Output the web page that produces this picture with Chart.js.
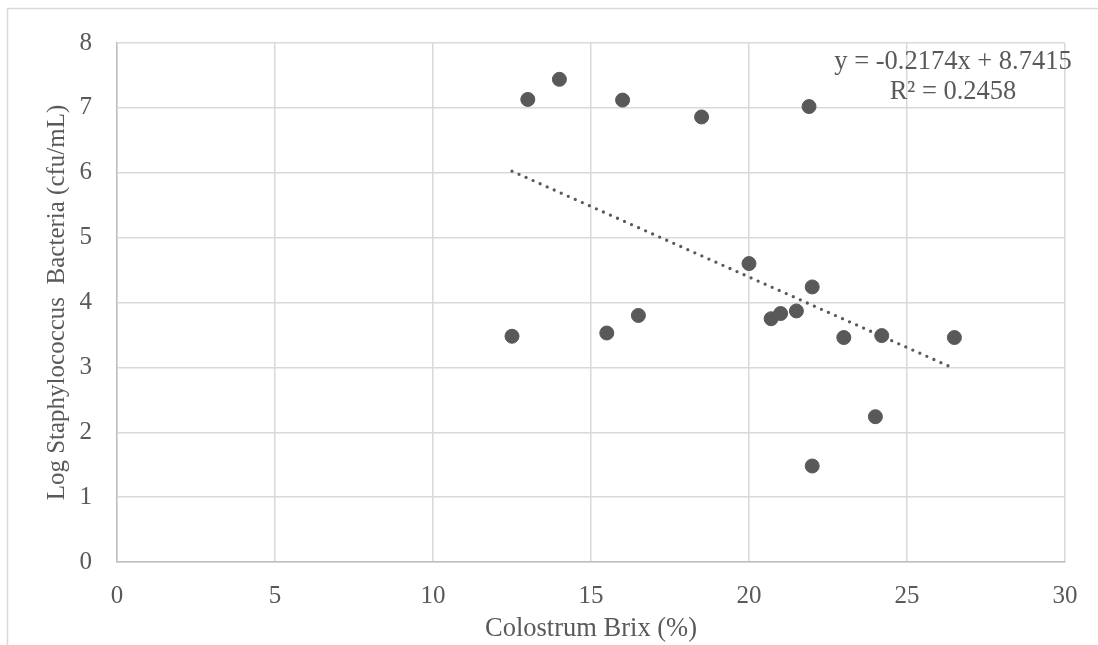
<!DOCTYPE html>
<html>
<head>
<meta charset="utf-8">
<script src="https://cdn.jsdelivr.net/npm/chart.js@4"></script>
<style>
  html, body { margin: 0; padding: 0; background: #fff; }
  #wrap { width: 1098px; height: 645px; }
</style>
</head>
<body>
<div id="wrap"><canvas id="brixChart" width="1098" height="645"></canvas></div>
<script>
// Colostrum Brix (%) vs log Staph counts
const brix = [12.5, 13, 14, 15.5, 16, 16.5, 18.5, 20, 20.7, 21, 21.5, 21.9, 22, 22, 23, 24, 24.2, 26.5];
const logStaph = [3.48, 7.13, 7.44, 3.53, 7.12, 3.80, 6.86, 4.60, 3.75, 3.83, 3.87, 7.02, 4.24, 1.48, 3.46, 2.24, 3.49, 3.46];

// trendline as printed on the chart
const slope = -0.2174;
const intercept = 8.7415;
const rSquared = 0.2458;

const xTicks = [0, 5, 10, 15, 20, 25, 30];
const yTicks = [0, 1, 2, 3, 4, 5, 6, 7, 8];

const textColor = '#595959';
const family = '"Liberation Serif", "Times New Roman", serif';
const font = { family: family, size: 25 };
const bigFont = { family: family, size: 26.5 };

const points = brix.map((x, i) => ({ x: x, y: logStaph[i] }));
const xMin = Math.min(...brix), xMax = Math.max(...brix);
const trend = [
    { x: xMin, y: slope * xMin + intercept },
    { x: xMax, y: slope * xMax + intercept }
];

// light frame around the whole chart, like the Excel chart border
const frame = {
    id: 'frame',
    beforeDraw(chart) {
        const ctx = chart.ctx;
        ctx.save();
        ctx.fillStyle = '#fff';
        ctx.fillRect(0, 0, chart.width, chart.height);
        ctx.strokeStyle = '#d9d9d9';
        ctx.lineWidth = 1.5;
        ctx.strokeRect(7.5, 8.5, chart.width + 50, chart.height + 50);
        ctx.restore();
    }
};

// equation label top right
const equation = {
    id: 'equation',
    afterDraw(chart) {
        const ctx = chart.ctx;
        const cx = chart.chartArea.right - 112;
        const cy = chart.chartArea.top + 19;
        ctx.save();
        ctx.font = bigFont.size + 'px ' + family;
        ctx.fillStyle = textColor;
        ctx.textAlign = 'center';
        ctx.textBaseline = 'middle';
        ctx.fillText('y = ' + slope.toFixed(4) + 'x + ' + intercept.toFixed(4), cx, cy);
        ctx.fillText('R² = ' + rSquared.toFixed(4), cx, cy + 30);
        ctx.restore();
    }
};

new Chart(document.getElementById('brixChart'), {
    type: 'scatter',
    data: {
        datasets: [{
            label: 'Log Staphylococcus',
            data: points,
            backgroundColor: '#595959',
            borderColor: '#595959',
            pointRadius: 7,
            pointHoverRadius: 7
        }, {
            type: 'line',
            label: 'Linear trend',
            data: trend,
            borderColor: '#595959',
            borderWidth: 3.3,
            borderDash: [0, 7.7],
            borderCapStyle: 'round',
            pointRadius: 0,
            fill: false
        }]
    },
    options: {
        responsive: false,
        animation: false,
        layout: { padding: { left: 30, right: 33, top: 43, bottom: 0 } },
        plugins: {
            legend: { display: false },
            tooltip: { enabled: false }
        },
        scales: {
            x: {
                type: 'linear',
                min: 0,
                max: 30,
                afterBuildTicks: (axis) => { axis.ticks = xTicks.map(v => ({ value: v })); },
                afterFit: (axis) => { axis.height = 83; },
                grid: { color: '#d9d9d9', lineWidth: 1.5, drawTicks: false },
                border: { color: '#bfbfbf', width: 1.5 },
                ticks: { color: textColor, font: font, padding: 19, maxRotation: 0 },
                title: { display: true, text: 'Colostrum Brix (%)', color: textColor, font: bigFont, padding: 0 }
            },
            y: {
                type: 'linear',
                min: 0,
                max: 8,
                afterBuildTicks: (axis) => { axis.ticks = yTicks.map(v => ({ value: v })); },
                afterFit: (axis) => { axis.width = 87; },
                grid: { color: '#d9d9d9', lineWidth: 1.5, drawTicks: false },
                border: { color: '#bfbfbf', width: 1.5 },
                ticks: { color: textColor, font: font, padding: 25 },
                title: { display: true, text: 'Log Staphylococcus  Bacteria (cfu/mL)', color: textColor, font: font, padding: { top: 12, bottom: 0 } }
            }
        }
    },
    plugins: [frame, equation]
});
</script>
</body>
</html>
